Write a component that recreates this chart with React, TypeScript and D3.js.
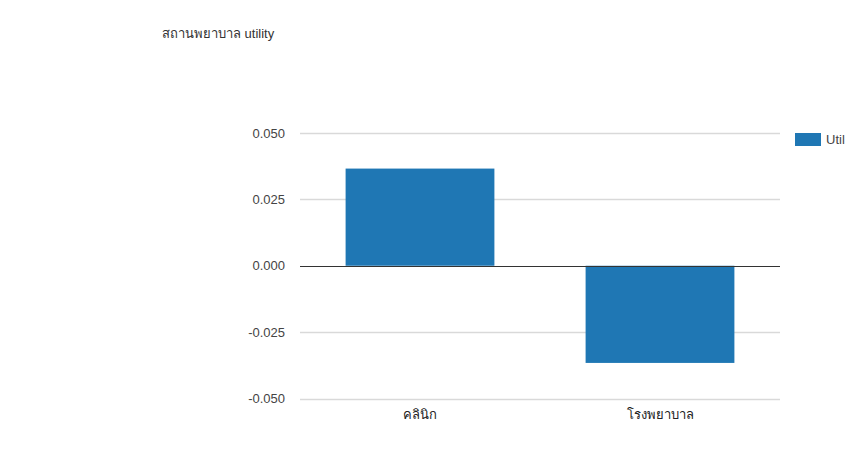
import React, { useEffect, useRef } from "react";
import * as d3 from "d3";

const title = "สถานพยาบาล utility";
const categories = ["คลินิก", "โรงพยาบาล"];
const seriesName = "Util";
const values = [0.0366, -0.0366];
const yTicks = [-0.05, -0.025, 0, 0.025, 0.05];

const W = 848;
const H = 468;

export default function App() {
  const ref = useRef<SVGSVGElement | null>(null);

  useEffect(() => {
    document.body.style.margin = "0";
    const svg = d3.select(ref.current);
    svg.selectAll("*").remove();

    const font = "Arial, 'Liberation Sans', 'Noto Sans', 'DejaVu Sans', sans-serif";

    svg.append("rect").attr("width", W).attr("height", H).attr("fill", "#ffffff");
    svg.append("rect").attr("x", 145).attr("y", 18).attr("width", W - 145).attr("height", 412).attr("fill", "#ffffff");

    const x = d3.scaleBand<string>().domain(categories).range([300, 780]).paddingInner(0).paddingOuter(0);
    const y = d3.scaleLinear().domain([-0.05, 0.05]).range([398.5, 133]);

    const g = svg.append("g");

    g.selectAll("line.grid")
      .data(yTicks)
      .enter()
      .append("line")
      .attr("x1", 300)
      .attr("x2", 780)
      .attr("y1", (d) => Math.round(y(d)) + 0.5)
      .attr("y2", (d) => Math.round(y(d)) + 0.5)
      .attr("stroke", (d) => (d === 0 ? "#333333" : "#d9d9d9"))
      .attr("stroke-width", (d) => (d === 0 ? 1 : 1.5));

    const bw = x.bandwidth() * 0.62;
    g.selectAll("rect.bar")
      .data(values)
      .enter()
      .append("rect")
      .attr("x", (_, i) => (x(categories[i]) as number) + (x.bandwidth() - bw) / 2)
      .attr("y", (d) => y(Math.max(0, d)))
      .attr("width", bw)
      .attr("height", (d) => Math.abs(y(d) - y(0)))
      .attr("fill", "#1f77b4");

    g.append("line")
      .attr("x1", 300)
      .attr("x2", 780)
      .attr("y1", Math.round(y(0)) + 0.5)
      .attr("y2", Math.round(y(0)) + 0.5)
      .attr("stroke", "#333333");

    const fmt = d3.format(".3f");
    g.selectAll("text.ytick")
      .data(yTicks)
      .enter()
      .append("text")
      .attr("x", 285)
      .attr("y", (d) => y(d) + 4.5)
      .attr("text-anchor", "end")
      .attr("font-family", font)
      .attr("font-size", 13)
      .attr("fill", "#444444")
      .text((d) => fmt(d).replace("−", "-"));

    g.selectAll("text.xtick")
      .data(categories)
      .enter()
      .append("text")
      .attr("x", (d) => (x(d) as number) + x.bandwidth() / 2)
      .attr("y", 419)
      .attr("text-anchor", "middle")
      .attr("font-family", font)
      .attr("font-size", 13)
      .attr("fill", "#222222")
      .text((d) => d);

    svg.append("text")
      .attr("x", 162)
      .attr("y", 38)
      .attr("font-family", font)
      .attr("font-size", 13)
      .attr("fill", "#333333")
      .text(title);

    svg.append("rect").attr("x", 795).attr("y", 133).attr("width", 26).attr("height", 13).attr("fill", "#1f77b4");
    svg.append("text")
      .attr("x", 826)
      .attr("y", 144)
      .attr("font-family", font)
      .attr("font-size", 13)
      .attr("fill", "#444444")
      .text(seriesName);
  }, []);

  return (
    <div style={{ position: "absolute", left: 0, top: 0 }}>
      <svg ref={ref} width={W} height={H} style={{ display: "block" }} />
    </div>
  );
}
